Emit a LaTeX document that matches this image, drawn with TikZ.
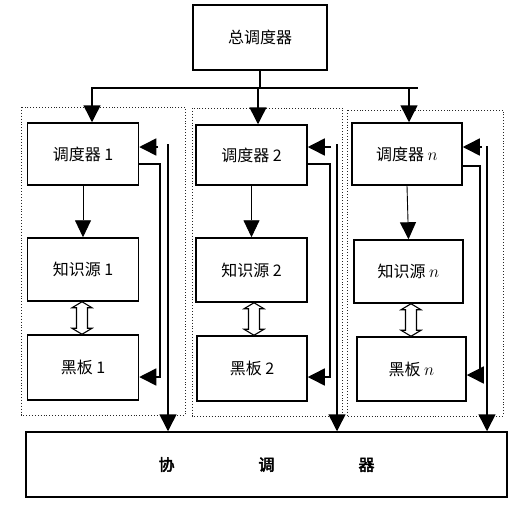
\documentclass[tikz,border=0pt]{standalone}
\usepackage{fontspec}
\setmainfont{Noto Sans CJK SC}
\newfontfamily\cjkbold[FakeBold=3]{Noto Sans CJK SC}
\usetikzlibrary{arrows.meta,calc}

\begin{document}
\begin{tikzpicture}[
    x=1pt, y=-1pt,
    box/.style={rectangle, draw, line width=1.5pt, minimum width=111pt, minimum height=62pt, inner sep=0pt, font=\fontsize{16}{19}\selectfont},
    group/.style={draw=black!85, dotted, line width=0.9pt},
    link/.style={line width=1.5pt},
    arr/.style={line width=1.5pt, -{Triangle[length=17pt,width=17pt]}},
    thinarr/.style={line width=0.9pt, -{Triangle[length=17pt,width=16pt]}},
    swap/.style={line width=1.1pt, fill=white, to path={
        let \p1=(\tikztostart), \p2=(\tikztotarget) in
        (\x1,\y1) -- (\x1+10,\y1-6) -- (\x1+5.5,\y1-6) -- (\x2+5.5,\y2+6) -- (\x2+10,\y2+6)
        -- (\x2,\y2) -- (\x2-10,\y2+6) -- (\x2-5.5,\y2+6) -- (\x1-5.5,\y1-6) -- (\x1-10,\y1-6) -- cycle}}
]
\useasboundingbox (0,0) rectangle (532,515);

% Top scheduler
\node[box, minimum width=134pt, minimum height=65pt] (top) at (260,37.5) {总调度器};

% Dotted groups
\draw[group] (21,107) rectangle (185,415);
\draw[group] (192,108) rectangle (342,416);
\draw[group] (347,110) rectangle (503,416);

% Column 1
\node[box] (s1) at (83,154) {调度器 1};
\node[box, minimum height=63pt] (k1) at (83,269.5) {知识源 1};
\node[box, minimum height=65pt] (b1) at (83,367.5) {黑板 1};

% Column 2
\node[box, minimum height=60pt] (s2) at (251.5,155) {调度器 2};
\node[box, minimum height=64pt] (k2) at (251.5,270) {知识源 2};
\node[box, minimum width=110pt, minimum height=65pt] (b2) at (252,368.5) {黑板 2};

% Column n
\node[box, minimum width=110pt] (s3) at (407,154) {调度器 $n$};
\node[box, minimum width=109pt, minimum height=63pt] (k3) at (408.5,271.5) {知识源 $n$};
\node[box, minimum width=109pt, minimum height=64pt] (b3) at (411.5,369) {黑板 $n$};

% Coordinator
\node[box, minimum width=481pt, minimum height=65pt] (coord) at (266.5,464.5)
    {\cjkbold 协\hspace{84pt}调\hspace{84pt}器\hspace{34pt}};

% Bus from the top scheduler
\coordinate (bus) at (260,88);
\coordinate (busL) at (91,88);
\coordinate (busR) at (418,88);
\coordinate (d1) at (92,88);
\coordinate (d2) at (258,88);
\coordinate (d3) at (409,88);
\draw[link] (top.south) -- (bus);
\draw[link] (busL) -- (busR);
\draw[arr] (d1) -- (d1 |- s1.north);
\draw[arr] (d2) -- (d2 |- s2.north);
\draw[arr] (d3) -- (d3 |- s3.north);

% Scheduler to knowledge source
\draw[thinarr] (s1.south) -- (k1.north);
\draw[thinarr] (s2.south) -- (k2.north);
\draw[thinarr] (s3.south) -- (k3.north);

% Knowledge source <-> blackboard
\coordinate (x1) at (82,0);
\coordinate (x2) at (254,0);
\coordinate (x3) at (411,0);
\draw[swap] (x1 |- k1.south) to (x1 |- b1.north);
\draw[swap] (x2 |- k2.south) to (x2 |- b2.north);
\draw[swap] (x3 |- k3.south) to (x3 |- b3.north);

% Feedback lines, column 1
\coordinate (in1) at (160,164);
\coordinate (in1b) at (160,377);
\coordinate (st1) at (158,147);
\coordinate (up1) at (168,144);
\draw[arr] (s1.east |- in1) -- (in1) -- (in1b) -- (b1.east |- in1b);
\draw[arr] (st1) -- (st1 -| s1.east);
\draw[arr] (up1) -- (up1 |- coord.north);

% Feedback lines, column 2
\coordinate (in2) at (330,164);
\coordinate (in2b) at (330,377);
\coordinate (st2) at (331,147);
\coordinate (up2) at (337,144);
\draw[arr] (s2.east |- in2) -- (in2) -- (in2b) -- (b2.east |- in2b);
\draw[arr] (st2) -- (st2 -| s2.east);
\draw[arr] (up2) -- (up2 |- coord.north);

% Feedback lines, column n
\coordinate (in3) at (480,166);
\coordinate (in3b) at (480,375);
\coordinate (st3) at (482,147);
\coordinate (up3) at (487,146);
\draw[arr] (s3.east |- in3) -- (in3) -- (in3b) -- (b3.east |- in3b);
\draw[arr] (st3) -- (st3 -| s3.east);
\draw[arr] (up3) -- (up3 |- coord.north);

\end{tikzpicture}
\end{document}
